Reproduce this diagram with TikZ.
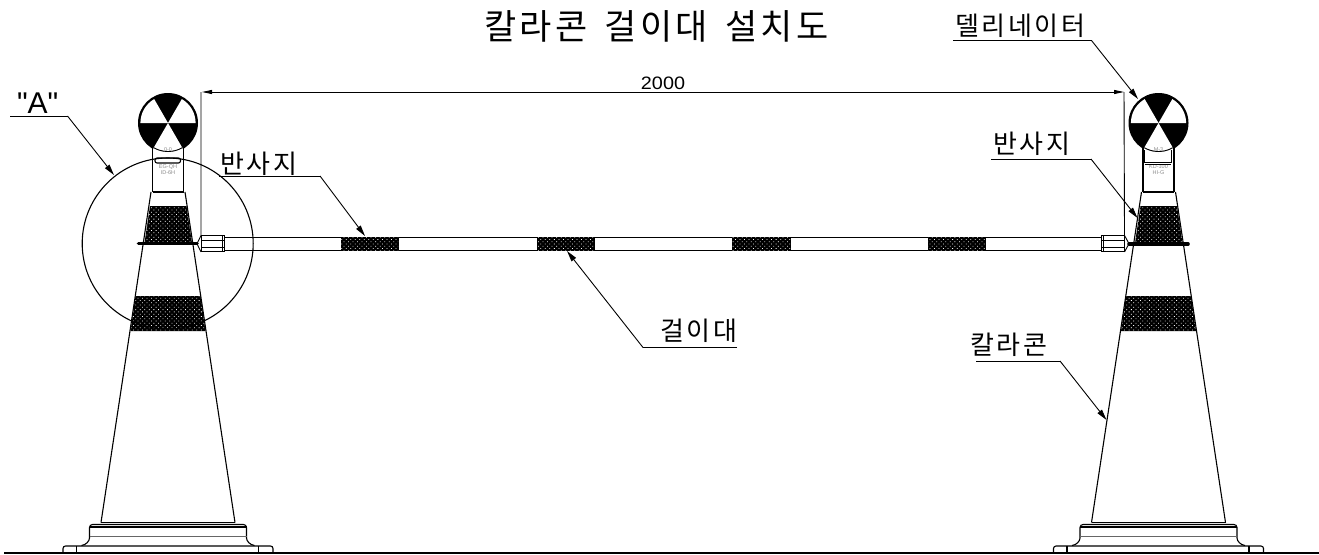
\documentclass[tikz,border=0pt]{standalone}
\usepackage{fontspec}
\setmainfont{Liberation Sans}
\newfontfamily\krlabel[LetterSpace=10]{Noto Sans CJK KR}
\newfontfamily\krtitle[LetterSpace=10]{Noto Sans CJK KR}
\newfontfamily\quotefont{Liberation Sans}
\usetikzlibrary{arrows.meta,patterns.meta}
\tikzset{
  every node/.style={inner sep=0pt,outer sep=0pt},
  outl/.style={draw=black,line width=1.1pt},
  thin line/.style={draw=black,line width=0.9pt},
  gray line/.style={draw=black!60,line width=0.9pt},
  lead/.style={draw=black,line width=0.9pt,-{Triangle[length=11pt,width=5.5pt]}},
  dim/.style={draw=black,line width=0.9pt},
  refl/.style={fill=black,postaction={pattern={Dots[radius=0.55pt,distance=3.2pt,angle=45]},pattern color=white}},
  labeltext/.style={font=\krlabel\fontsize{26}{26}\selectfont,anchor=base west},
  tinytext/.style={font=\fontsize{5.5}{5.5}\selectfont,text=black!45,anchor=center}
}
\newcommand{\trafficcone}[4]{%
  \begin{scope}[xshift=#1pt]
    % ball
    \fill[black] (168,123) circle (30);
    \fill[white] (168,123) -- ++(0:27.6) arc (0:-60:27.6) -- cycle;
    \fill[white] (168,123) -- ++(180:27.6) arc (180:240:27.6) -- cycle;
    \fill[white] (168,123) -- ++(60:29) arc (60:120:29) -- cycle;
    % neck
    \fill[white] (168,123) ++(60:29) arc (60:120:29) -- (152.5,153) -- (183.5,153) -- cycle;
    \draw[thin line] (168,123) ++(60:28.5) arc (60:120:28.5);
    \draw[outl] (152.5,148) -- (152.5,192) (183.5,148) -- (183.5,192);
    \draw[outl] (152.5,192) -- (183.5,192);
    \node[tinytext] at (168,150) {#2};
    \node[tinytext] at (168,167) {#3};
    \node[tinytext] at (168,172.5) {#4};
    % body
    \path[refl] (150,206) -- (186.5,206) -- (192,243) -- (144.5,243) -- cycle;
    \path[refl] (135.5,296) -- (200.5,296) -- (205.5,331) -- (130.5,331) -- cycle;
    \draw[outl] (151,192) -- (101,522.5) (185,192) -- (235,522.5);
    % base
    \draw[outl] (101,522.5) -- (235,522.5);
    \draw[outl,rounded corners=3pt] (81.5,545.5) .. controls (86,545) and (89.5,541) .. (89.5,535) -- (89.5,524.5) -- (246.5,524.5) -- (246.5,535) .. controls (246.5,541) and (250,545) .. (254.5,545.5);
    \draw[outl] (89.5,527) -- (246.5,527);
    \draw[gray line] (89.5,536) -- (246.5,536);
    \draw[outl,rounded corners=2.5pt] (63,553) -- (63,546) -- (273,546) -- (273,553);
    \draw[outl] (76.5,546) -- (76.5,553) (258.5,546) -- (258.5,553);
  \end{scope}}
\begin{document}
\begin{tikzpicture}[x=1pt,y=-1pt]
  \useasboundingbox (0,0) rectangle (1319,554);
  \fill[white] (0,0) rectangle (1319,554);
  % ground
  \draw[outl] (4,553) -- (1319,553);
  % cones
  \trafficcone{0}{0-0}{EG-QH}{ID-6H}
  \trafficcone{990.5}{M-3}{KD-100}{HI-G}
  % slots
  \draw[outl,rounded corners=2pt] (155,158) rectangle (180.5,163);
  \draw[thin line] (1144.5,150) -- (1144.5,162) -- (1171,162) -- (1171,150);
  \draw[thin line] (1144.5,164) -- (1171,164);
  % reference circle
  \node[draw=black,line width=1.1pt,circle,minimum size=171pt] (detail) at (167.7,243.5) {};
  % bars
  \draw[black,line width=3.6pt,line cap=round] (138.5,243.5) -- (197,243.5);
  \draw[black,line width=3.6pt,line cap=round] (1129,244) -- (1188,244);
  % pole
  \draw[thin line] (224,237) -- (1102,237) (224,250.5) -- (1102,250.5);
  \foreach \xa/\xb in {341/398,537/594,732/790,928/985}
    \path[refl,draw=black,line width=.8pt] (\xa,237) rectangle (\xb,250.5);
  % end caps
  \node[draw=black,line width=1pt,minimum width=23pt,minimum height=16.5pt,fill=white] (capL) at (212.5,243.7) {};
  \node[draw=black,line width=1pt,minimum width=23pt,minimum height=16.5pt,fill=white] (capR) at (1113,243.7) {};
  \draw[thin line] (201,240) -- (224,240) (201,247) -- (224,247) (222.5,235.5) -- (222.5,252);
  \draw[thin line] (1102,240) -- (1124.5,240) (1102,247) -- (1124.5,247) (1103.5,235.5) -- (1103.5,252);
  \draw[thin line] (capL.north west) -- (197,243.7) -- (capL.south west);
  \draw[thin line] (capR.north east) -- (1129,243.7) -- (capR.south east);
  % dimension
  \coordinate (dimL) at (202,92);
  \coordinate (dimR) at (1124,92);
  \draw[dim] (capL.north west) -- (201,92) (capR.north east) -- (dimR);
  \draw[dim,{Triangle[length=10pt,width=4pt]}-{Triangle[length=10pt,width=4pt]}] (dimL) -- (dimR);
  \node[font=\fontsize{18}{18}\selectfont,anchor=base,xscale=1.1] (dimtext) at (663,89) {2000};
  % title
  \node[font=\krtitle\fontsize{35}{35}\selectfont,anchor=base west] (title) at (484,39) {칼라콘\hspace{17pt}걸이대\hspace{17pt}설치도};
  % labels
  \node[font=\quotefont\fontsize{30}{30}\selectfont,anchor=base west] (labA) at (17,113) {"A"};
  \coordinate (a0) at (10,116); \coordinate (a1) at (67.5,116); \coordinate (a2) at (114,175);
  \draw[thin line] (a0) -- (a1); \draw[lead] (a1) -- (a2);
  \node[labeltext] (labB) at (220,173) {반사지};
  \coordinate (b0) at (219,176); \coordinate (b1) at (320,176); \coordinate (b2) at (365,236);
  \draw[thin line] (b0) -- (b1); \draw[lead] (b1) -- (b2);
  \node[labeltext] (labC) at (955,35) {델리네이터};
  \coordinate (c0) at (953,40.5); \coordinate (c1) at (1091.5,40.5); \coordinate (c2) at (1138,99);
  \draw[thin line] (c0) -- (c1); \draw[lead] (c1) -- (c2);
  \node[labeltext] (labD) at (993,153.5) {반사지};
  \coordinate (d0) at (991,159); \coordinate (d1) at (1091,159); \coordinate (d2) at (1137.5,218);
  \draw[thin line] (d0) -- (d1); \draw[lead] (d1) -- (d2);
  \node[labeltext] (labE) at (660,340.5) {걸이대};
  \coordinate (e0) at (737,347.5); \coordinate (e1) at (643,347.5); \coordinate (e2) at (567,251);
  \draw[thin line] (e0) -- (e1); \draw[lead] (e1) -- (e2);
  \node[labeltext] (labF) at (970,354) {칼라콘};
  \coordinate (f0) at (976,361); \coordinate (f1) at (1060,361); \coordinate (f2) at (1106.5,420);
  \draw[thin line] (f0) -- (f1); \draw[lead] (f1) -- (f2);
\end{tikzpicture}
\end{document}
